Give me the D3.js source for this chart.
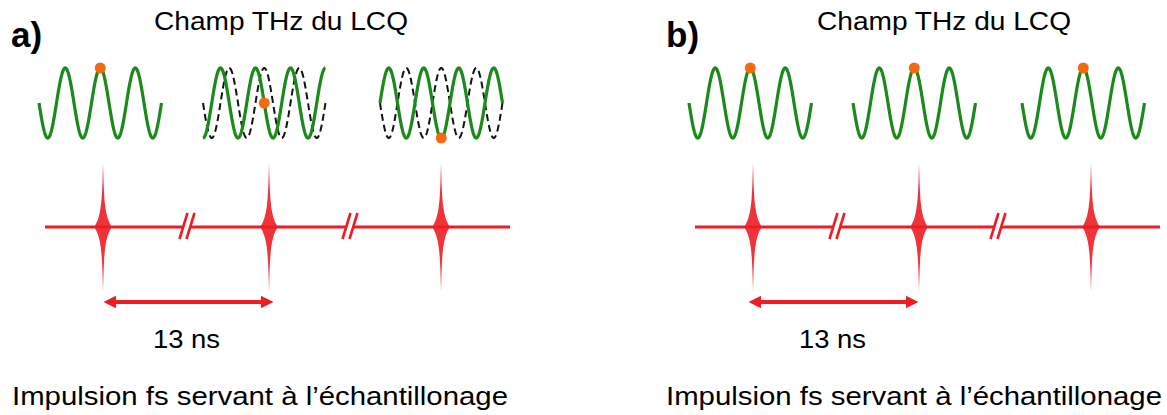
<!DOCTYPE html>
<html><head><meta charset="utf-8">
<script src="https://cdn.jsdelivr.net/npm/d3@7"></script>
<style>html,body{margin:0;padding:0;background:#fff;}</style>
</head><body>
<svg id="chart" width="1167" height="415"></svg>
<script>
// ---- data ----
const panelLabels = ["a)", "b)"];
const titleText = "Champ THz du LCQ";
const periodText = "13 ns";
const captionText = "Impulsion fs servant à l\u2019échantillonage";
// phase shift (in cycles) of the QCL THz field at each sampling pulse
const phasesA = [0, 0.25, 0.5];
const phasesB = [0, 0, 0];
const cycles = 3.5;          // cycles drawn per wave snippet
const sampleCycle = 1.75;    // sampling instant (cycles) within snippet
const pulseIndex = [0, 1, 2];

// ---- layout ----
const svg = d3.select("#chart");
const panels = [
  {label: panelLabels[0], phases: phasesA, labelX: 11, titleX: 154,
   waveX: [39, 203, 380], pulseX: [103, 269, 441], lineX: [45, 510],
   breakX: [187, 350], arrow: [102, 275], nsX: 153, capX: 12},
  {label: panelLabels[1], phases: phasesB, labelX: 666, titleX: 817,
   waveX: [689, 853, 1022], pulseX: [753, 919, 1091], lineX: [695, 1160],
   breakX: [837, 998], arrow: [747, 920], nsX: 799, capX: 666}
];
const green = "#1b8a1b", orange = "#f46a10", red = "#ee1c24";
const waveW = 122.5;
const y = d3.scaleLinear().domain([-1, 1]).range([138, 68]);
const lineY = 227;

const defs = svg.append("defs");
const marker = (id, d) => defs.append("marker").attr("id", id)
  .attr("viewBox", "0 0 10 10").attr("refX", 5).attr("refY", 5)
  .attr("markerWidth", 3.4).attr("markerHeight", 3.4).attr("orient", "auto")
  .append("path").attr("d", d).attr("fill", red);
marker("arrEnd", "M0,0 L10,5 L0,10 z");
marker("arrStart", "M10,0 L0,5 L10,10 z");

panels.forEach(p => {
  const g = svg.append("g");
  g.append("text").attr("x", p.labelX).attr("y", 47)
    .attr("font-family", "Liberation Sans, Arial, sans-serif")
    .attr("font-weight", "bold").attr("font-size", 35).text(p.label);
  g.append("text").attr("x", p.titleX).attr("y", 30)
    .attr("font-family", "Liberation Sans, Arial, sans-serif")
    .attr("font-size", 25).attr("textLength", 254)
    .attr("lengthAdjust", "spacingAndGlyphs").text(titleText);

  // waves
  p.phases.forEach((ph, i) => {
    const x = d3.scaleLinear().domain([0, cycles]).range([p.waveX[i], p.waveX[i] + waveW]);
    const ts = d3.range(0, cycles + 0.001, 0.01);
    const f = phase => t => -Math.sin(2 * Math.PI * (t + phase));
    const line = fn => d3.line().x(t => x(t)).y(t => y(fn(t)))(ts);
    if (ph !== 0) {
      g.append("path").attr("d", line(f(0))).attr("fill", "none")
        .attr("stroke", "#111").attr("stroke-width", 2)
        .attr("stroke-dasharray", "7,4");
    }
    g.append("path").attr("d", line(f(ph))).attr("fill", "none")
      .attr("stroke", green).attr("stroke-width", 3.2);
    g.append("circle").attr("cx", x(sampleCycle)).attr("cy", y(f(ph)(sampleCycle)))
      .attr("r", 5.5).attr("fill", orange);
  });

  // pulse train line
  g.append("line").attr("x1", p.lineX[0]).attr("x2", p.lineX[1])
    .attr("y1", lineY).attr("y2", lineY).attr("stroke", red).attr("stroke-width", 3.2);
  // break marks
  p.breakX.forEach(bx => {
    g.append("polygon")
      .attr("points", [[bx - 7.5, 238], [bx + 0.5, 214], [bx + 7.5, 214], [bx - 0.5, 238]].join(" "))
      .attr("fill", "#fff");
    [-3.5, 3.5].forEach(o => {
      g.append("line").attr("x1", bx + o - 4).attr("y1", 239)
        .attr("x2", bx + o + 4).attr("y2", 213)
        .attr("stroke", red).attr("stroke-width", 2.6);
    });
  });
  // femtosecond pulses
  pulseIndex.forEach(k => {
    const cx = p.pulseX[k];
    const hs = d3.range(-63, 63.5, 0.5);
    const w = h => 7.5 * Math.exp(-Math.abs(h) / 12) + 1.3 * (1 - Math.abs(h) / 63);
    const pts = hs.map(h => [cx + w(h), lineY + h]).concat(hs.slice().reverse().map(h => [cx - w(h), lineY + h]));
    g.append("path").attr("d", d3.line()(pts) + "Z")
      .attr("fill", red).attr("fill-opacity", 0.9);
  });
  // 13 ns arrow
  g.append("line").attr("x1", p.arrow[0] + 8).attr("x2", p.arrow[1] - 8)
    .attr("y1", 302).attr("y2", 302).attr("stroke", red).attr("stroke-width", 3.8)
    .attr("marker-start", "url(#arrStart)").attr("marker-end", "url(#arrEnd)");
  g.append("text").attr("x", p.nsX).attr("y", 348)
    .attr("font-family", "Liberation Sans, Arial, sans-serif")
    .attr("font-size", 25).attr("textLength", 67)
    .attr("lengthAdjust", "spacingAndGlyphs").text(periodText);
  g.append("text").attr("x", p.capX).attr("y", 405)
    .attr("font-family", "Liberation Sans, Arial, sans-serif")
    .attr("font-size", 25).attr("textLength", 496)
    .attr("lengthAdjust", "spacingAndGlyphs").text(captionText);
});
</script>
</body></html>
